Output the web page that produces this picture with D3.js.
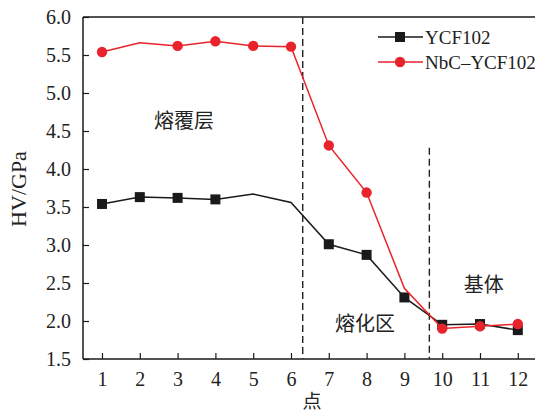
<!DOCTYPE html>
<html>
<head>
<meta charset="utf-8">
<script src="https://cdn.jsdelivr.net/npm/d3@7"></script>
<style>
  html, body { margin: 0; padding: 0; background: #fff; }
  svg { display: block; }
</style>
</head>
<body>
<div id="chart"></div>
<script>
// data
const points = [1, 2, 3, 4, 5, 6, 7, 8, 9, 10, 11, 12];
const ycf102 = [3.54, 3.63, 3.62, 3.60, 3.67, 3.56, 3.01, 2.87, 2.31, 1.95, 1.96, 1.88];
const nbcYcf102 = [5.54, 5.66, 5.62, 5.68, 5.62, 5.61, 4.31, 3.69, 2.43, 1.90, 1.93, 1.96];
// points that carry a marker in the original (others are bare vertices)
const ycfMarked = [1, 2, 3, 4, 7, 8, 9, 10, 11, 12];
const nbcMarked = [1, 3, 4, 5, 6, 7, 8, 10, 11, 12];
const yTicks = [1.5, 2.0, 2.5, 3.0, 3.5, 4.0, 4.5, 5.0, 5.5, 6.0];
const zoneLines = [6.31, 9.66];
const zoneLabels = [
  { text: '熔覆层', x: 3.17, y: 4.65 },
  { text: '熔化区', x: 7.96, y: 1.98 },
  { text: '基体', x: 11.1, y: 2.49 }
];

const width = 535, height = 417;
const margin = { top: 17, right: 0, bottom: 58, left: 83 };

const svg = d3.select('#chart')
  .append('svg')
  .attr('width', width)
  .attr('height', height);

// 1 -> x=102, 37.8 px per point
const x = d3.scaleLinear().domain([1, 12]).range([102, 102 + 37.8 * 11]);
const y = d3.scaleLinear().domain([1.5, 6.0]).range([height - margin.bottom, margin.top]);

const serif = '"Liberation Serif", "Times New Roman", serif';
const cjk = '"Noto Sans CJK SC", "Noto Sans CJK JP", sans-serif';

// axes
const xAxis = d3.axisBottom(x).tickValues(points).tickSizeInner(-6).tickSizeOuter(0).tickPadding(13);
const yAxis = d3.axisLeft(y).tickValues(yTicks).tickFormat(d3.format('.1f')).tickSizeInner(-6).tickSizeOuter(0).tickPadding(12);

const gx = svg.append('g')
  .attr('transform', `translate(0,${y(1.5)})`)
  .call(xAxis);
gx.select('.domain').remove();
gx.append('line')
  .attr('x1', margin.left).attr('x2', width)
  .attr('stroke', '#1a1a1a').attr('stroke-width', 1.5);

const gy = svg.append('g')
  .attr('transform', `translate(${margin.left},0)`)
  .call(yAxis);
gy.select('.domain').remove();
gy.append('line')
  .attr('y1', y(6.0)).attr('y2', y(1.5))
  .attr('stroke', '#1a1a1a').attr('stroke-width', 1.5);

// top frame line
svg.append('line')
  .attr('x1', margin.left).attr('x2', width)
  .attr('y1', y(6.0)).attr('y2', y(6.0))
  .attr('stroke', '#1a1a1a').attr('stroke-width', 1.5);

svg.selectAll('.tick line').attr('stroke', '#1a1a1a').attr('stroke-width', 1.2);
svg.selectAll('.tick text')
  .attr('fill', '#222')
  .style('font-size', '20px')
  .style('font-family', serif);
gx.selectAll('.tick text').attr('dy', '0.71em');

// axis titles
svg.append('text')
  .attr('x', 312).attr('y', 408)
  .attr('text-anchor', 'middle')
  .style('font-family', cjk).style('font-size', '19px')
  .attr('fill', '#222')
  .text('点');

svg.append('text')
  .attr('transform', `translate(26,189) rotate(-90)`)
  .attr('text-anchor', 'middle')
  .style('font-family', serif).style('font-size', '22px')
  .attr('fill', '#222')
  .text('HV/GPa');

// zone separators
svg.selectAll('.zone')
  .data(zoneLines)
  .join('line')
  .attr('class', 'zone')
  .attr('x1', d => x(d)).attr('x2', d => x(d))
  .attr('y1', (d, i) => i === 0 ? y(6.0) : y(4.28))
  .attr('y2', y(1.5))
  .attr('stroke', '#222')
  .attr('stroke-width', 1.4)
  .attr('stroke-dasharray', '7,4');

svg.selectAll('.zone-label')
  .data(zoneLabels)
  .join('text')
  .attr('class', 'zone-label')
  .attr('x', d => x(d.x)).attr('y', d => y(d.y))
  .attr('text-anchor', 'middle')
  .attr('dominant-baseline', 'central')
  .style('font-family', cjk).style('font-size', '20px')
  .attr('fill', '#222')
  .text(d => d.text);

const line = d3.line().x(d => x(d[0])).y(d => y(d[1]));

const series = [
  { name: 'YCF102', values: ycf102, marked: ycfMarked, color: '#1a1a1a', shape: 'square' },
  { name: 'NbC\u2013YCF102', values: nbcYcf102, marked: nbcMarked, color: '#e8232b', shape: 'circle' }
];

function drawMarker(g, s, cx, cy) {
  if (s.shape === 'square') {
    g.append('rect')
      .attr('x', cx - 5).attr('y', cy - 5)
      .attr('width', 10).attr('height', 10)
      .attr('fill', s.color);
  } else {
    g.append('circle')
      .attr('cx', cx).attr('cy', cy).attr('r', 5.2)
      .attr('fill', s.color);
  }
}

series.forEach(s => {
  const data = points.map((p, i) => [p, s.values[i]]);
  const g = svg.append('g');
  g.append('path')
    .datum(data)
    .attr('d', line)
    .attr('fill', 'none')
    .attr('stroke', s.color)
    .attr('stroke-width', 1.5);
  data.filter(d => s.marked.includes(d[0]))
    .forEach(d => drawMarker(g, s, x(d[0]), y(d[1])));
});

// legend
const legend = svg.append('g');
series.forEach((s, i) => {
  const ly = 37 + i * 25;
  legend.append('line')
    .attr('x1', 378).attr('x2', 423)
    .attr('y1', ly).attr('y2', ly)
    .attr('stroke', s.color).attr('stroke-width', 1.5);
  drawMarker(legend, s, 400, ly);
  legend.append('text')
    .attr('x', 425).attr('y', ly)
    .attr('dominant-baseline', 'central')
    .style('font-family', serif).style('font-size', '19px')
    .attr('fill', '#222')
    .text(s.name);
});
</script>
</body>
</html>
